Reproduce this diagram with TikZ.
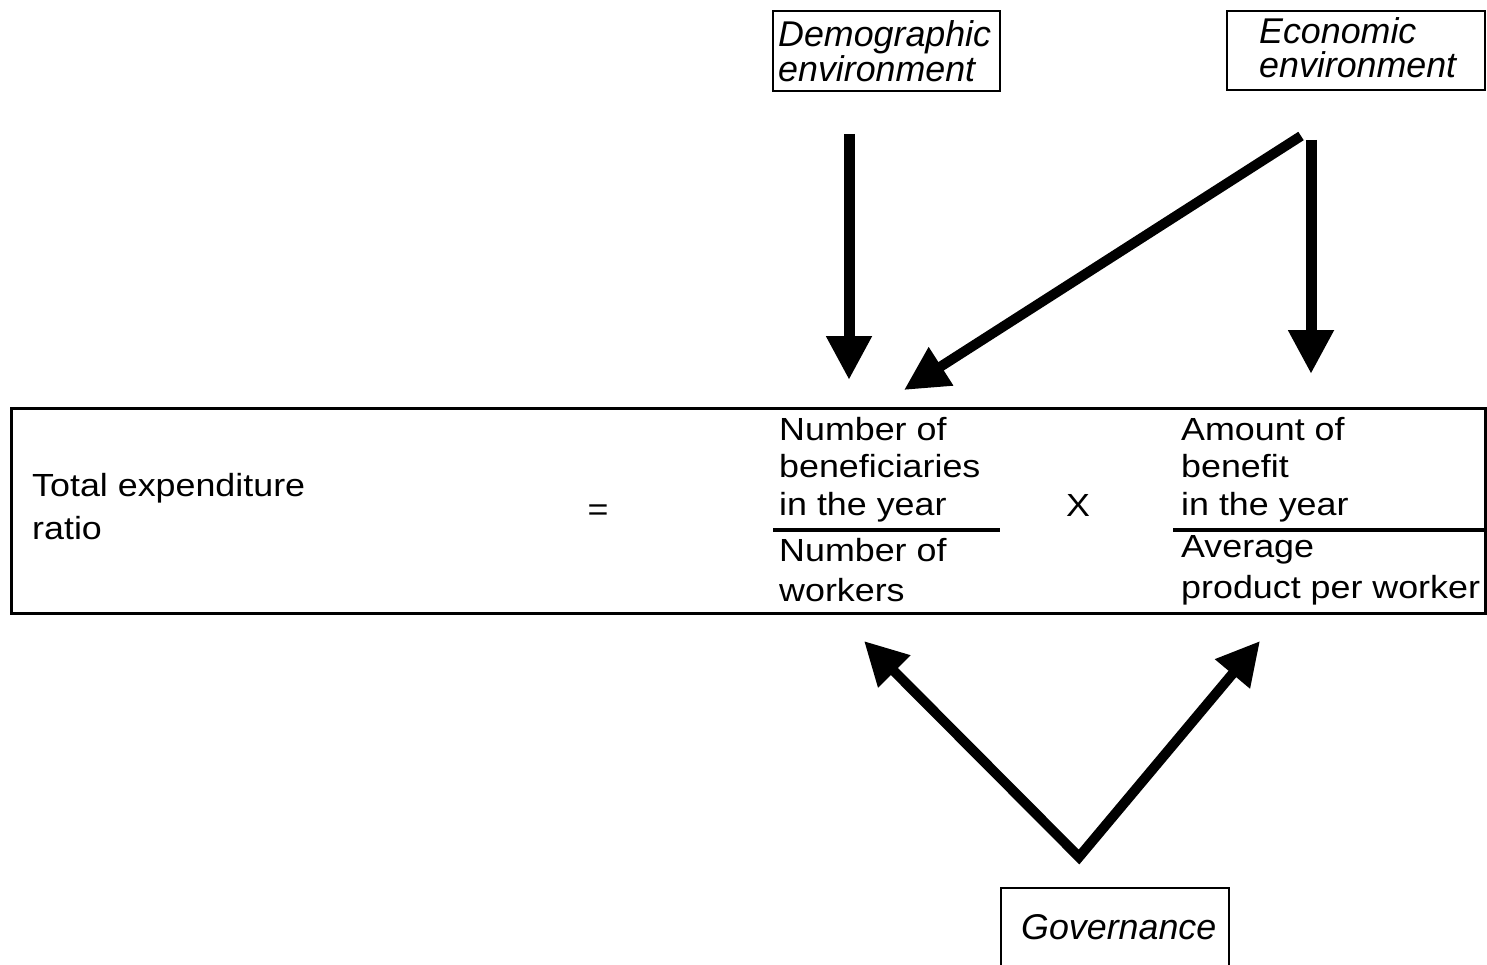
\documentclass[tikz,border=0pt]{standalone}
\usepackage{fontspec}
\setmainfont{Liberation Sans}
\newfontfamily\bodyfont{Liberation Sans}[FakeStretch=1.12]
\usetikzlibrary{arrows.meta}
\tikzset{
  boxframe/.style={draw, line width=2.7pt, inner sep=0pt, outer sep=0pt, anchor=north west},
  bodytxt/.style={font=\bodyfont\fontsize{32}{32}\selectfont, inner sep=0pt, anchor=base west},
  ittxt/.style={font=\fontsize{35.8}{35.8}\selectfont\itshape, inner sep=0pt, anchor=base west},
  fracline/.style={line width=3.5pt},
  bigarrow/.style={line width=11pt, -{Triangle[length=44pt,width=43pt]}},
}
\begin{document}
\begin{tikzpicture}[x=1pt,y=-1pt]
\useasboundingbox (0,0) rectangle (1487,965);
\clip (0,0) rectangle (1487,965);
% boxes
\node[boxframe, minimum width=227pt, minimum height=80pt] (demo) at (773,11) {};
\node[boxframe, minimum width=258pt, minimum height=79pt] (econ) at (1227,11) {};
\node[boxframe, minimum width=228pt, minimum height=140pt] (gov) at (1001,888) {};
\node[boxframe, line width=3pt, minimum width=1474pt, minimum height=205pt] (main) at (11,408) {};
% box texts
\node[ittxt] (demo1) at (778,46.7) {Demographic};
\node[ittxt] (demo2) at (778,81.7) {environment};
\node[ittxt] (econ1) at (1259,44) {Economic};
\node[ittxt] (econ2) at (1259,77.3) {environment};
\node[ittxt] (gov1) at (1021,939) {Governance};
% equation texts
\node[bodytxt] (tot1) at (32,496) {Total expenditure};
\node[bodytxt] (tot2) at (32,539.3) {ratio};
\node[bodytxt, anchor=base] (eq) at (598,520) {=};
\node[bodytxt] (n1) at (779,440) {Number of};
\node[bodytxt] (n2) at (779,477) {beneficiaries};
\node[bodytxt] (n3) at (779,515) {in the year};
\node[bodytxt] (d1) at (779,561.7) {Number of};
\node[bodytxt] (d2) at (779,601.7) {workers};
\node[bodytxt, anchor=base] (times) at (1078,516.7) {X};
\node[bodytxt] (a1) at (1181,440) {Amount of};
\node[bodytxt] (a2) at (1181,477.7) {benefit};
\node[bodytxt] (a3) at (1181,515) {in the year};
\node[bodytxt] (b1) at (1181,557.3) {Average};
\node[bodytxt] (b2) at (1181,598.3) {product per worker};
% fraction bars
\coordinate (fl1) at (773,530);
\coordinate (fl2) at (1000,530);
\coordinate (fr1) at (1173,530);
\coordinate (fr2) at (1485,530);
\draw[fracline] (fl1) -- (fl2);
\draw[fracline] (fr1) -- (fr2);
% arrow end points
\coordinate (demoOut) at (849,134);
\coordinate (demoIn) at (849,380);
\coordinate (econOutA) at (1311,140);
\coordinate (econInA) at (1311,374);
\coordinate (econOutB) at (1301,136);
\coordinate (econInB) at (904,390);
\coordinate (govL) at (864,641);
\coordinate (govV) at (1079,857);
\coordinate (govR) at (1260,641);
% arrows
\draw[bigarrow] (demoOut) -- (demoIn);
\draw[bigarrow] (econOutA) -- (econInA);
\draw[bigarrow, line width=10pt] (econOutB) -- (econInB);
\draw[line width=10pt, line join=miter, {Triangle[length=43pt,width=43pt]}-{Triangle[length=43pt,width=43pt]}] (govL) -- (govV) -- (govR);
\end{tikzpicture}
\end{document}
